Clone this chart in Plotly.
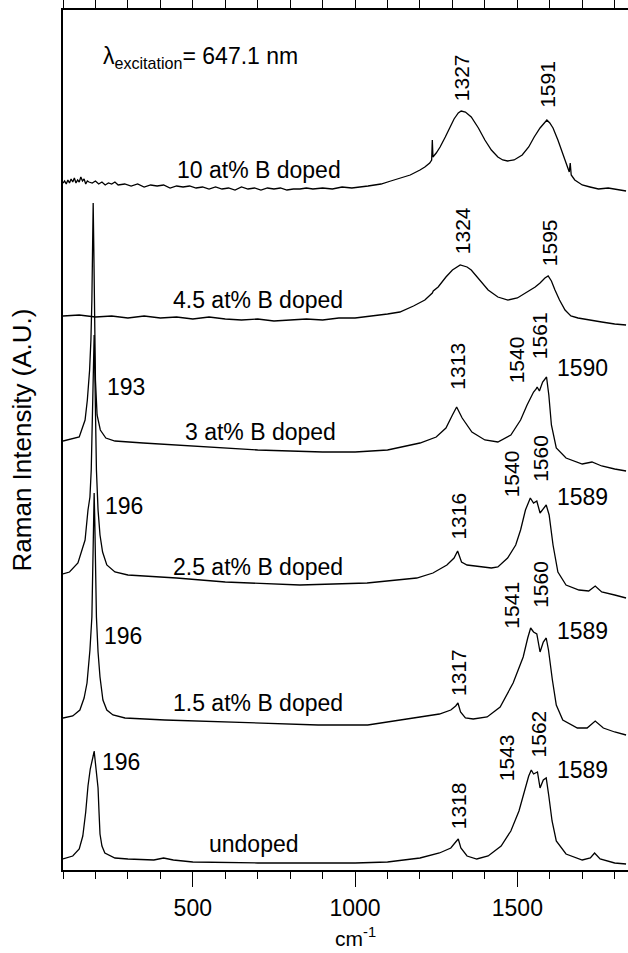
import plotly.graph_objects as go

# ---- Raman spectra (wavenumber in cm^-1, intensity in arbitrary units) ----
wn_undoped = [100,130,150,161,170,177,184,189,193,196,199,203,208,211,214,220,229,260,300,380,
              410,440,500,700,900,1000,1100,1200,1260,1295,1310,1318,1326,1345,1375,1410,1450,1480,1505,1522,
              1535,1543,1550,1562,1570,1580,1589,1597,1607,1620,1650,1700,1725,1738,1755,1800,1835]
int_undoped = [3,6,13,26,50,76,93,99,106,111,100,88,74,50,28,16,9,4,3,2,
               4,2,0,-1,-1,-1,0,4,9,14,20,23,14,6,3,6,16,31,51,71,
               86,92,88,90,74,82,84,66,41,21,8,2,4,9,3,-1,-2]

wn_15 = [100,130,152,165,174,183,189,192,194,196,198,200,203,208,214,223,235,254,291,414,
         600,886,1039,1141,1193,1260,1295,1310,1317,1325,1340,1364,1407,1447,1487,1518,1532,1541,1550,1560,
         1570,1580,1589,1596,1608,1620,1640,1685,1715,1740,1765,1800,1835]
int_15 = [4,6,12,24,39,72,105,150,200,229,200,150,105,70,45,22,12,7,4,2,
          0,-3,-3,2,5,8,12,16,19,10,4,3,5,15,39,65,84,94,90,88,
          70,80,84,72,42,17,2,-6,-6,1,-6,-10,-13]

wn_25 = [100,120,146,168,177,183,187,190,193,196,198,200,203,208,214,222,235,260,300,450,
         600,830,1037,1190,1240,1283,1305,1316,1328,1345,1370,1420,1440,1470,1495,1510,1525,1540,1550,1560,
         1570,1578,1589,1598,1610,1625,1650,1690,1720,1740,1760,1800,1835]
int_25 = [6,8,17,40,70,83,110,150,200,245,210,160,110,70,45,28,15,8,5,2,
          -2,-5,-3,2,7,15,22,29,18,15,14,12,13,22,35,50,70,82,77,79,
          67,70,75,65,35,8,-5,-10,-11,-6,-12,-15,-18]

wn_3 = [100,150,168,175,182,186,189,191,193,195,197,200,205,215,232,260,347,500,700,900,
        1000,1100,1200,1250,1280,1300,1313,1330,1360,1400,1440,1480,1510,1530,1540,1550,1558,1561,1568,1578,
        1590,1597,1605,1620,1650,1700,1730,1760,1800,1835]
int_3 = [7,11,28,48,78,108,148,188,245,198,128,68,33,18,10,7,5,2,-2,-4,
         -4,-2,5,11,20,33,41,30,16,8,6,13,28,43,50,56,59,61,57,66,
         71,53,23,0,-10,-16,-14,-18,-21,-23]

wn_45 = [100,150,200,250,300,350,400,450,500,550,600,650,700,750,800,850,900,950,1000,
         1060,1100,1138,1180,1215,1238,1241,1256,1280,1300,1324,1345,1358,1385,1410,1440,1471,1500,1532,1555,
         1570,1585,1595,1605,1616,1630,1647,1665,1687,1720,1760,1800,1835]
int_45 = [2,3,1,2,0,2,0,1,-1,1,-1,-2,-1,-3,-2,-1,-2,0,0,
          2,4,6,12,18,25,27,31,41,48,53,51,48,38,28,21,18,20,26,31,
          35,40,42,37,28,18,8,2,0,-2,-4,-6,-7]

wn_10 = [100,105,110,115,120,125,130,135,140,145,150,155,160,165,170,175,180,190,200,210,
         220,230,240,250,260,270,290,310,330,350,370,390,410,430,450,470,490,510,530,550,
         570,590,610,630,650,670,690,710,730,750,770,790,810,830,850,870,900,930,960,990,
         1040,1080,1110,1140,1170,1200,1215,1230,1236,1238,1240,1250,1262,1278,1292,1305,1318,1327,1340,1358,
         1380,1400,1420,1440,1455,1470,1490,1515,1535,1552,1570,1582,1591,1600,1610,1625,1640,1652,1660,1663,
         1666,1677,1700,1724,1750,1780,1810,1835]
int_10 = [5,7,4,8,5,9,6,10,5,8,6,11,7,9,4,7,6,5,7,4,
          6,3,5,4,6,3,4,2,4,1,3,2,3,0,2,1,2,0,1,-1,
          1,-1,0,-2,1,-1,0,-2,0,-1,0,-2,-1,-1,0,-1,0,-1,1,0,
          2,4,7,10,13,18,21,25,28,48,31,35,41,51,61,69,75,77,76,71,
          60,48,38,31,28,27,28,33,41,51,60,65,68,65,60,48,35,23,16,25,
          13,8,3,1,-1,0,-2,-3]

# vertical stacking offset of each spectrum
sample_names = ["undoped", "1.5 at% B doped", "2.5 at% B doped",
                "3 at% B doped", "4.5 at% B doped", "10 at% B doped"]
offsets = [8, 148, 290, 422, 552, 682]
spectra = [(wn_undoped, int_undoped), (wn_15, int_15), (wn_25, int_25),
           (wn_3, int_3), (wn_45, int_45), (wn_10, int_10)]

FONT = "Liberation Sans, Arial, Helvetica, sans-serif"
FS_H = 23   # horizontal texts
FS_V = 21   # rotated peak labels

fig = go.Figure()
for name, (wn, inten), off in zip(sample_names, spectra, offsets):
    fig.add_trace(go.Scatter(
        x=wn, y=[v + off for v in inten], mode="lines", name=name,
        line=dict(color="black", width=1.3), showlegend=False, hoverinfo="skip"))

# helper trace carrying the top (mirror) axis
fig.add_trace(go.Scatter(x=[100], y=[0], xaxis="x2", mode="markers",
                         marker=dict(opacity=0), showlegend=False, hoverinfo="skip"))

ann = []
# sample labels: (x position in cm^-1, y)
sample_label_pos = [(544, 26), (433, 167), (433, 303), (470, 438), (433, 570), (445, 700)]
for name, (lx, ly) in zip(sample_names, sample_label_pos):
    ann.append(dict(x=lx, y=ly, text=name, xanchor="left", yanchor="middle",
                    showarrow=False, font=dict(family=FONT, size=FS_H, color="black")))

# vertical peak labels: (peak position, y, horizontal nudge in px)
peak_labels_v = [
    (1327, 792, 0), (1591, 786, 0),
    (1324, 639, 2), (1595, 627, 1),
    (1313, 504, 0), (1540, 510, -14), (1561, 534, 2),
    (1316, 354, 0), (1540, 396, -19), (1560, 412, 3),
    (1317, 198, 0), (1541, 265, -20), (1560, 286, 3),
    (1318, 64, 0), (1543, 112, -25), (1562, 136, 1),
]
for pk, py, dx in peak_labels_v:
    ann.append(dict(x=pk, y=py, text=str(pk), textangle=-90, xanchor="center",
                    yanchor="middle", xshift=dx, showarrow=False,
                    font=dict(family=FONT, size=FS_V, color="black")))

# horizontal peak labels
peak_labels_h = [
    (1590, 502, 8), (1589, 373, 9), (1589, 239, 9), (1589, 100, 9),
    (193, 483, 12), (196, 364, 9), (196, 234, 8), (196, 108, 6),
]
for pk, py, dx in peak_labels_h:
    ann.append(dict(x=pk, y=py, text=str(pk), xanchor="left", yanchor="middle",
                    xshift=dx, showarrow=False,
                    font=dict(family=FONT, size=FS_H, color="black")))

ann.append(dict(x=216, y=813, text="λ<sub>excitation</sub>= 647.1 nm", xanchor="left",
                yanchor="middle", showarrow=False,
                font=dict(family=FONT, size=FS_H, color="black")))

# x-axis title, set just under the tick labels
ann.append(dict(x=1000, xref="x", y=0, yref="paper", yshift=-82, text="cm<sup>-1</sup>",
                xanchor="center", yanchor="bottom", showarrow=False,
                font=dict(family=FONT, size=21, color="black")))

X_RANGE = [100, 1841]
fig.update_layout(
    width=628, height=953,
    margin=dict(l=63, r=0, t=10, b=83),
    paper_bgcolor="white", plot_bgcolor="white",
    annotations=ann,
    xaxis=dict(range=X_RANGE, tickvals=[500, 1000, 1500], ticks="outside", ticklen=15,
               tickwidth=1.2, tickcolor="black", showline=True, linecolor="black",
               linewidth=1.5, showgrid=False, zeroline=False, ticklabelstandoff=2,
               minor=dict(dtick=100, tick0=100, ticks="outside", ticklen=7,
                          tickcolor="black", tickwidth=1.2, showgrid=False),
               tickfont=dict(family=FONT, size=FS_H, color="black")),
    xaxis2=dict(range=X_RANGE, overlaying="x", side="top", tick0=100, dtick=100,
                ticks="outside", ticklen=8, tickwidth=1.2, tickcolor="black",
                showticklabels=False, showline=True, linecolor="black", linewidth=1.5,
                showgrid=False, zeroline=False),
    yaxis=dict(range=[0, 860], showline=True, linecolor="black", linewidth=1.5,
               ticks="", showticklabels=False, showgrid=False, zeroline=False,
               title=dict(text="Raman Intensity (A.U.)", standoff=22,
                          font=dict(family=FONT, size=26, color="black"))),
)

fig.write_html("out.html")
